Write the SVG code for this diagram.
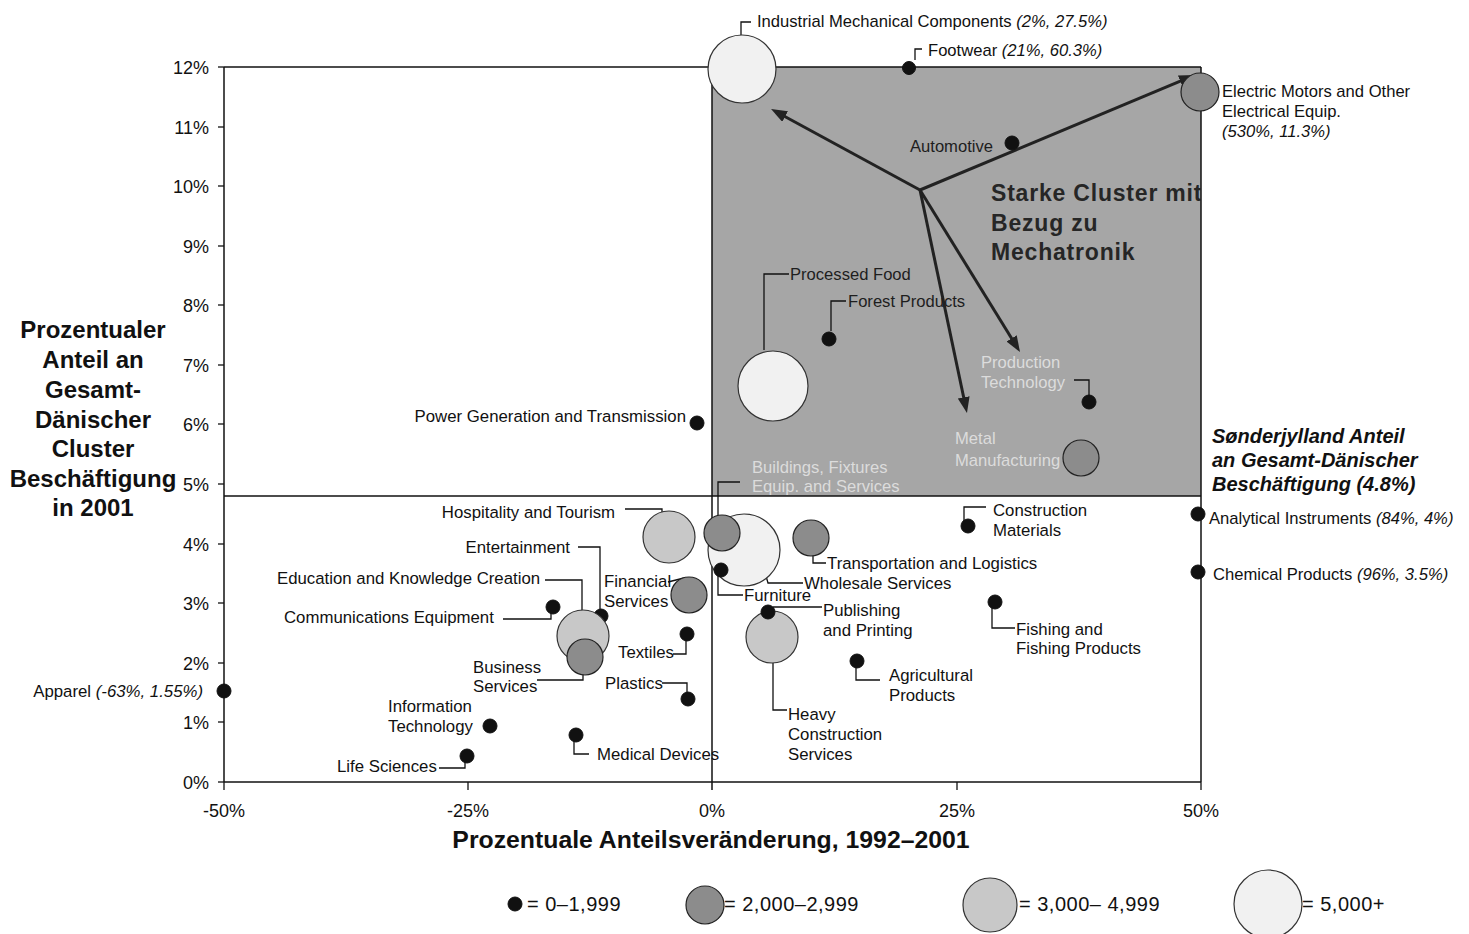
<svg xmlns="http://www.w3.org/2000/svg" width="1469" height="934" viewBox="0 0 1469 934">
<style>
text{font-family:"Liberation Sans",Arial,sans-serif;fill:#111}
.lb{font-size:16.8px}
.ls{font-size:16.6px}
.it{font-style:italic}
.tk{font-size:18px}
.ttl{font-size:24px;font-weight:bold}
.dot{fill:#111;stroke:#111;stroke-width:1}
.dk{fill:#8c8c8c;stroke:#222;stroke-width:1.2}
.md{fill:#c8c8c8;stroke:#333;stroke-width:1.2}
.lt{fill:#f1f1f1;stroke:#333;stroke-width:1.2}
.ld{fill:none;stroke:#111;stroke-width:1.3}
.ax{fill:none;stroke:#111;stroke-width:1.5}
.arw{fill:none;stroke:#222;stroke-width:3}
.fade{fill:#dcdcdc}
.big{font-size:23px;font-weight:bold;fill:#262626;letter-spacing:0.8px}
</style>
<defs>
<marker id="ah" markerUnits="userSpaceOnUse" markerWidth="18" markerHeight="14" refX="4" refY="6" orient="auto">
<path d="M0,0 L16,6 L0,12 z" fill="#222"/>
</marker>
<clipPath id="qclip"><rect x="712" y="67" width="489" height="429"/></clipPath>
</defs>
<rect width="1469" height="934" fill="#fff"/>

<g id="plot-frame">
<rect x="712" y="67" width="489" height="429" fill="#a6a6a6"/>
<line class="ax" x1="224" y1="67" x2="1201" y2="67"/>
<line class="ax" x1="224" y1="67" x2="224" y2="782"/>
<line class="ax" x1="224" y1="782" x2="1201" y2="782"/>
<line class="ax" x1="1201" y1="67" x2="1201" y2="782"/>
<line class="ax" x1="224" y1="496" x2="1201" y2="496"/>
<line class="ax" x1="712" y1="67" x2="712" y2="790"/>
<g stroke="#111" stroke-width="1.3">
<line x1="218" y1="67" x2="224" y2="67"/><line x1="218" y1="127" x2="224" y2="127"/>
<line x1="218" y1="186" x2="224" y2="186"/><line x1="218" y1="246" x2="224" y2="246"/>
<line x1="218" y1="305" x2="224" y2="305"/><line x1="218" y1="365" x2="224" y2="365"/>
<line x1="218" y1="424" x2="224" y2="424"/><line x1="218" y1="484" x2="224" y2="484"/>
<line x1="218" y1="544" x2="224" y2="544"/><line x1="218" y1="603" x2="224" y2="603"/>
<line x1="218" y1="663" x2="224" y2="663"/><line x1="218" y1="722" x2="224" y2="722"/>
<line x1="218" y1="782" x2="224" y2="782"/>
<line x1="224" y1="782" x2="224" y2="790"/><line x1="468" y1="782" x2="468" y2="790"/>
<line x1="957" y1="782" x2="957" y2="790"/><line x1="1201" y1="782" x2="1201" y2="790"/>
</g>
</g>

<g id="y-ticks" class="tk" text-anchor="end">
<text x="209" y="74">12%</text><text x="209" y="134">11%</text>
<text x="209" y="193">10%</text><text x="209" y="253">9%</text>
<text x="209" y="312">8%</text><text x="209" y="372">7%</text>
<text x="209" y="431">6%</text><text x="209" y="491">5%</text>
<text x="209" y="551">4%</text><text x="209" y="610">3%</text>
<text x="209" y="670">2%</text><text x="209" y="729">1%</text>
<text x="209" y="789">0%</text>
</g>
<g id="x-ticks" class="tk" text-anchor="middle">
<text x="224" y="817">-50%</text><text x="468" y="817">-25%</text>
<text x="712" y="817">0%</text><text x="957" y="817">25%</text>
<text x="1201" y="817">50%</text>
</g>

<g id="y-title" class="ttl" text-anchor="middle">
<text x="93" y="338">Prozentualer</text>
<text x="93" y="368">Anteil an</text>
<text x="93" y="398">Gesamt-</text>
<text x="93" y="428">Dänischer</text>
<text x="93" y="457">Cluster</text>
<text x="93" y="487">Beschäftigung</text>
<text x="93" y="516">in 2001</text>
</g>
<g id="x-title"><text x="711" y="848" text-anchor="middle" style="font-size:24.8px;font-weight:bold">Prozentuale Anteilsveränderung, 1992–2001</text></g>

<g id="quadrant-label" clip-path="url(#qclip)">
<text class="big" x="991" y="201">Starke Cluster mit</text>
<text class="big" x="991" y="231">Bezug zu</text>
<text class="big" x="991" y="260">Mechatronik</text>
</g>

<g id="share-label" style="font-size:20px;font-weight:bold;font-style:italic">
<text x="1212" y="443">Sønderjylland Anteil</text>
<text x="1212" y="467">an Gesamt-Dänischer</text>
<text x="1212" y="491">Beschäftigung (4.8%)</text>
</g>

<g id="connectors">
<path class="ld" d="M741,35 V22 H751"/>
<path class="ld" d="M915,60 V49 H922"/>
<path class="ld" d="M764,350 V274 H789"/>
<path class="ld" d="M831,331 V301 H846"/>
<path class="ld" d="M1074,380 H1089 V396"/>
<path class="ld" d="M740,482 H718 V528"/>
<path class="ld" d="M625,509 H662 V512"/>
<path class="ld" d="M578,547 H600 V610"/>
<path class="ld" d="M545,580 H582 V611"/>
<path class="ld" d="M668,582 L684,578"/>
<path class="ld" d="M503,619 H551 V610"/>
<path class="ld" d="M583,667 V680 H537"/>
<path class="ld" d="M686,638 V654 H673"/>
<path class="ld" d="M662,683 H687 V694"/>
<path class="ld" d="M574,738 V754 H589"/>
<path class="ld" d="M439,768 H465 V760"/>
<path class="ld" d="M766,576 L768,583 H803"/>
<path class="ld" d="M718,575 V595 H743"/>
<path class="ld" d="M813,550 V563 H826"/>
<path class="ld" d="M773,607 H822"/>
<path class="ld" d="M773,663 V710 H787"/>
<path class="ld" d="M856,665 V680 H880"/>
<path class="ld" d="M964,521 V507 H986"/>
<path class="ld" d="M992,606 V628 H1015"/>
<path class="arw" d="M920,190 L781.6,114.7" marker-end="url(#ah)"/>
<path class="arw" d="M920,190 L1183.9,79.6" marker-end="url(#ah)"/>
<path class="arw" d="M920,190 L1013.7,341.8" marker-end="url(#ah)"/>
<path class="arw" d="M920,190 L964.5,401.3" marker-end="url(#ah)"/>
</g>

<g id="industrial-mechanical-components"><circle class="lt" cx="742" cy="69" r="34"/><text class="ls" x="757" y="27">Industrial Mechanical Components <tspan class="it">(2%, 27.5%)</tspan></text></g>
<g id="footwear"><circle class="dot" cx="909" cy="68" r="6.5"/><text class="ls" x="928" y="56">Footwear <tspan class="it">(21%, 60.3%)</tspan></text></g>
<g id="electric-motors"><circle class="dk" cx="1200" cy="92" r="19"/><text class="ls" x="1222" y="97">Electric Motors and Other</text><text class="ls" x="1222" y="117">Electrical Equip.</text><text class="ls it" x="1222" y="137">(530%, 11.3%)</text></g>
<g id="automotive"><circle class="dot" cx="1012" cy="143" r="7"/><text class="ls" x="993" y="152" text-anchor="end" style="fill:#1e1e1e">Automotive</text></g>
<g id="processed-food"><circle class="lt" cx="773" cy="386" r="35"/><text class="ls" x="790" y="280" style="fill:#1e1e1e">Processed Food</text></g>
<g id="forest-products"><circle class="dot" cx="829" cy="339" r="7"/><text class="ls" x="848" y="307" style="fill:#1e1e1e">Forest Products</text></g>
<g id="production-technology"><circle class="dot" cx="1089" cy="402" r="7"/><text class="ls fade" x="981" y="368">Production</text><text class="ls fade" x="981" y="388">Technology</text></g>
<g id="metal-manufacturing"><circle class="dk" cx="1081" cy="458" r="18"/><text class="ls fade" x="955" y="444">Metal</text><text class="ls fade" x="955" y="466">Manufacturing</text></g>
<g id="buildings-fixtures"><text class="ls fade" x="752" y="473">Buildings, Fixtures</text><text class="ls fade" x="752" y="492">Equip. and Services</text></g>
<g id="power-generation"><circle class="dot" cx="697" cy="423" r="7"/><text class="lb" x="686" y="422" text-anchor="end">Power Generation and Transmission</text></g>

<g id="wholesale-services"><circle class="lt" cx="744" cy="550" r="36"/><text class="lb" x="804" y="589">Wholesale Services</text></g>
<g id="buildings-bubble"><circle class="dk" cx="722" cy="533" r="18"/></g>
<g id="furniture"><circle class="dot" cx="721" cy="570" r="7"/><text class="lb" x="744" y="601">Furniture</text></g>
<g id="hospitality-tourism"><circle class="md" cx="669" cy="537" r="26"/><text class="lb" x="615" y="518" text-anchor="end">Hospitality and Tourism</text></g>
<g id="transportation-logistics"><circle class="dk" cx="811" cy="538" r="18"/><text class="lb" x="827" y="569">Transportation and Logistics</text></g>
<g id="entertainment"><circle class="dot" cx="601" cy="616" r="7"/><text class="lb" x="570" y="553" text-anchor="end">Entertainment</text></g>
<g id="education-knowledge"><circle class="md" cx="583" cy="636" r="26"/><text class="lb" x="277" y="584">Education and Knowledge Creation</text></g>
<g id="business-services"><circle class="dk" cx="585" cy="657" r="18"/><text class="lb" x="473" y="673">Business</text><text class="lb" x="473" y="692">Services</text></g>
<g id="financial-services"><circle class="dk" cx="689" cy="595" r="18"/><text class="lb" x="604" y="587">Financial</text><text class="lb" x="604" y="607">Services</text></g>
<g id="communications-equipment"><circle class="dot" cx="553" cy="607" r="7"/><text class="lb" x="284" y="623">Communications Equipment</text></g>
<g id="textiles"><circle class="dot" cx="687" cy="634" r="7"/><text class="lb" x="618" y="658">Textiles</text></g>
<g id="plastics"><circle class="dot" cx="688" cy="699" r="7"/><text class="lb" x="605" y="689">Plastics</text></g>
<g id="information-technology"><circle class="dot" cx="490" cy="726" r="7"/><text class="lb" x="388" y="712">Information</text><text class="lb" x="388" y="732">Technology</text></g>
<g id="medical-devices"><circle class="dot" cx="576" cy="735" r="7"/><text class="lb" x="597" y="760">Medical Devices</text></g>
<g id="life-sciences"><circle class="dot" cx="467" cy="756" r="7"/><text class="lb" x="337" y="772">Life Sciences</text></g>
<g id="apparel"><circle class="dot" cx="224" cy="691" r="7"/><text class="lb" x="203" y="697" text-anchor="end">Apparel <tspan class="it">(-63%, 1.55%)</tspan></text></g>
<g id="heavy-construction"><circle class="md" cx="772" cy="637" r="26"/><text class="lb" x="788" y="720">Heavy</text><text class="lb" x="788" y="740">Construction</text><text class="lb" x="788" y="760">Services</text></g>
<g id="publishing-printing"><circle class="dot" cx="768" cy="612" r="7"/><text class="lb" x="823" y="616">Publishing</text><text class="lb" x="823" y="636">and Printing</text></g>
<g id="agricultural-products"><circle class="dot" cx="857" cy="661" r="7"/><text class="lb" x="889" y="681">Agricultural</text><text class="lb" x="889" y="701">Products</text></g>
<g id="construction-materials"><circle class="dot" cx="968" cy="526" r="7"/><text class="lb" x="993" y="516">Construction</text><text class="lb" x="993" y="536">Materials</text></g>
<g id="fishing-products"><circle class="dot" cx="995" cy="602" r="7"/><text class="lb" x="1016" y="635">Fishing and</text><text class="lb" x="1016" y="654">Fishing Products</text></g>
<g id="analytical-instruments"><circle class="dot" cx="1198" cy="514" r="7"/><text class="ls" x="1209" y="524">Analytical Instruments <tspan class="it">(84%, 4%)</tspan></text></g>
<g id="chemical-products"><circle class="dot" cx="1198" cy="572" r="7"/><text class="ls" x="1213" y="580">Chemical Products <tspan class="it">(96%, 3.5%)</tspan></text></g>

<g id="legend" style="font-size:20px;letter-spacing:0.5px">
<circle class="dot" cx="515" cy="904" r="7"/><text x="527" y="911">= 0–1,999</text>
<circle class="dk" cx="705" cy="905" r="19"/><text x="724" y="911">= 2,000–2,999</text>
<circle class="md" cx="990" cy="905" r="27"/><text x="1019" y="911">= 3,000– 4,999</text>
<circle class="lt" cx="1268" cy="904" r="34"/><text x="1302" y="911">= 5,000+</text>
</g>
</svg>
